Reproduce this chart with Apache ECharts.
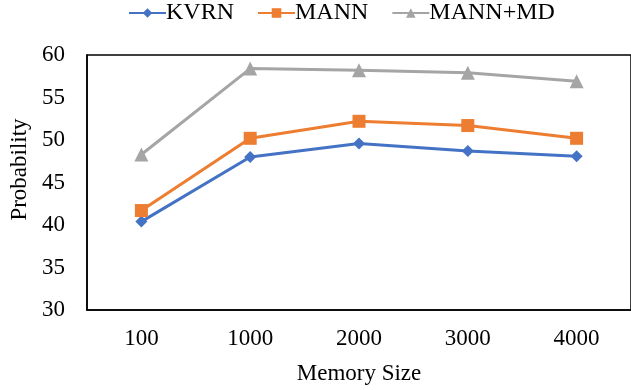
<!DOCTYPE html>
<html>
<head>
<meta charset="utf-8">
<script src="https://cdn.jsdelivr.net/npm/echarts@6/dist/echarts.min.js"></script>
<style>html,body{margin:0;padding:0;background:#fff}#c{width:631px;height:390px}</style>
</head>
<body>
<div id="c"></div>
<script>
var categories = ['100', '1000', '2000', '3000', '4000'];
var kvrn = [40.4, 48.0, 49.6, 48.7, 48.1];
var mann = [41.7, 50.2, 52.2, 51.7, 50.2];
var mannMd = [48.3, 58.4, 58.2, 57.9, 56.9];
var seriesNames = ['KVRN', 'MANN', 'MANN+MD'];

var font = '"Liberation Serif", "Times New Roman", serif';
var chart = echarts.init(document.getElementById('c'), null, {renderer: 'canvas'});
function mk(name, data, color, symbol, size) {
  return {
    name: name, type: 'line', data: data, symbol: symbol, symbolSize: size,
    lineStyle: {color: color, width: 3}, itemStyle: {color: color},
    animation: false
  };
}
chart.setOption({
  backgroundColor: '#fff',
  animation: false,
  legend: {
    top: 1, left: 128, padding: 0,
    itemWidth: 37, itemHeight: 12, itemGap: 23,
    textStyle: {fontFamily: font, fontSize: 24, color: '#000', padding: [0, 0, 0, -5]},
    data: seriesNames
  },
  grid: {left: 85, top: 55, width: 549, bottom: 79, show: true, borderColor: '#000', borderWidth: 1.5},
  xAxis: {
    type: 'category', data: categories, boundaryGap: true,
    axisLine: {show: true, lineStyle: {color: '#000', width: 1.5}},
    axisTick: {show: false},
    axisLabel: {fontFamily: font, fontSize: 23, color: '#000', margin: 17},
    name: 'Memory Size', nameLocation: 'middle', nameGap: 52,
    nameTextStyle: {fontFamily: font, fontSize: 23, color: '#000'}
  },
  yAxis: {
    type: 'value', min: 30, max: 60, interval: 5,
    axisLine: {show: true, lineStyle: {color: '#000', width: 1.5}},
    axisTick: {show: false},
    splitLine: {show: false},
    axisLabel: {fontFamily: font, fontSize: 23, color: '#000', margin: 22},
    name: 'Probability', nameLocation: 'middle', nameGap: 56, nameRotate: 90,
    nameTextStyle: {fontFamily: font, fontSize: 23, color: '#000', padding: [0, 0, 0, 26]}
  },
  series: [
    mk('KVRN', kvrn, '#4472C4', 'diamond', 12),
    mk('MANN', mann, '#ED7D31', 'rect', 13),
    mk('MANN+MD', mannMd, '#A5A5A5', 'triangle', 14)
  ]
});
</script>
</body>
</html>
